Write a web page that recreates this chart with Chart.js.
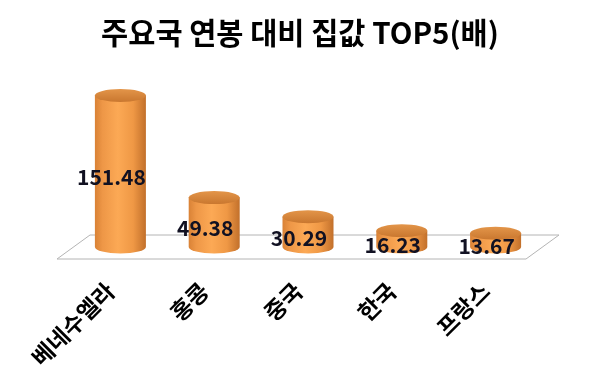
<!DOCTYPE html>
<html>
<head>
<meta charset="utf-8">
<script src="https://cdn.jsdelivr.net/npm/chart.js@4.4.1/dist/chart.umd.min.js"></script>
<style>
html,body{margin:0;padding:0;background:#fff;}
#wrap{width:600px;height:383px;}
</style>
</head>
<body>
<div id="wrap"><canvas id="c" width="600" height="383"></canvas></div>
<script>
const titleText = '주요국 연봉 대비 집값 TOP5(배)';
const categories = ['베네수엘라', '홍콩', '중국', '한국', '프랑스'];
const ratios = [151.48, 49.38, 30.29, 16.23, 13.67];
const valueLabels = ['151.48', '49.38', '30.29', '16.23', '13.67'];

const FLOOR_SHEAR = 16.5;   // half depth offset in x
const FLOOR_HALF = 12;      // half depth offset in y
const RX = 25.5, RY = 6.5;

const cylinderPlugin = {
  id: 'cylinders',
  beforeDatasetsDraw(chart) {
    const ctx = chart.ctx;
    const a = chart.chartArea;
    const base = chart.scales.y.getPixelForValue(0);
    ctx.save();
    ctx.beginPath();
    ctx.moveTo(a.left - FLOOR_SHEAR, base + FLOOR_HALF);
    ctx.lineTo(a.right - FLOOR_SHEAR, base + FLOOR_HALF);
    ctx.lineTo(a.right + FLOOR_SHEAR, base - FLOOR_HALF);
    ctx.lineTo(a.left + FLOOR_SHEAR, base - FLOOR_HALF);
    ctx.closePath();
    ctx.fillStyle = '#ffffff';
    ctx.fill();
    ctx.strokeStyle = '#b4b4b4';
    ctx.lineWidth = 1;
    ctx.stroke();
    ctx.restore();
  },
  afterDatasetsDraw(chart) {
    const ctx = chart.ctx;
    const meta = chart.getDatasetMeta(0);
    meta.data.forEach((el, i) => {
      const x = el.x, top = el.y, base = el.base;
      ctx.save();
      // side
      const g = ctx.createLinearGradient(x - RX, 0, x + RX, 0);
      g.addColorStop(0, '#d98236');
      g.addColorStop(0.15, '#ee9747');
      g.addColorStop(0.45, '#fca955');
      g.addColorStop(0.75, '#ef9845');
      g.addColorStop(1, '#c2702b');
      ctx.beginPath();
      ctx.moveTo(x - RX, top);
      ctx.lineTo(x - RX, base);
      ctx.ellipse(x, base, RX, RY, 0, Math.PI, 0, true);
      ctx.lineTo(x + RX, top);
      ctx.closePath();
      ctx.fillStyle = g;
      ctx.fill();
      // top
      const tg = ctx.createLinearGradient(0, top - RY, 0, top + RY);
      tg.addColorStop(0, '#e39549');
      tg.addColorStop(1, '#c9772f');
      ctx.beginPath();
      ctx.ellipse(x, top, RX, RY, 0, 0, Math.PI * 2);
      ctx.fillStyle = tg;
      ctx.fill();
      ctx.restore();

      // value label
      ctx.save();
      ctx.font = 'bold 21px "Noto Sans CJK KR", "Noto Sans", sans-serif';
      ctx.fillStyle = '#111122';
      ctx.textAlign = 'center';
      ctx.textBaseline = 'middle';
      ctx.fillText(valueLabels[i], x - 9, (top + base) / 2 + 6);
      ctx.restore();
    });
  }
};

new Chart(document.getElementById('c'), {
  type: 'bar',
  data: {
    labels: categories,
    datasets: [{
      data: ratios,
      backgroundColor: 'rgba(0,0,0,0)',
      borderWidth: 0,
      categoryPercentage: 1,
      barPercentage: 0.54
    }]
  },
  options: {
    responsive: false,
    animation: false,
    events: [],
    layout: { padding: { left: 57.5, right: 57.5, top: 0, bottom: 0 } },
    plugins: {
      legend: { display: false },
      tooltip: { enabled: false },
      title: {
        display: true,
        text: titleText,
        color: '#000',
        font: { family: '"Noto Sans CJK KR", sans-serif', size: 29.5, weight: 'bold', lineHeight: 1.2 },
        padding: { top: 15, bottom: 21 }
      }
    },
    scales: {
      x: {
        grid: { display: false, drawTicks: false },
        border: { display: false },
        ticks: {
          minRotation: 45, maxRotation: 45,
          color: '#000',
          font: { family: '"Noto Sans CJK KR", sans-serif', size: 23, weight: 'bold' },
          padding: 30,
          labelOffset: -10
        },
        afterFit(scale) { scale.height = 383 - 247; }
      },
      y: {
        display: true,
        min: 0,
        max: 175.6,
        grid: { display: false, drawTicks: false },
        border: { display: false },
        ticks: { display: false },
        afterFit(scale) { scale.width = 16; }
      }
    }
  },
  plugins: [cylinderPlugin]
});
</script>
</body>
</html>
